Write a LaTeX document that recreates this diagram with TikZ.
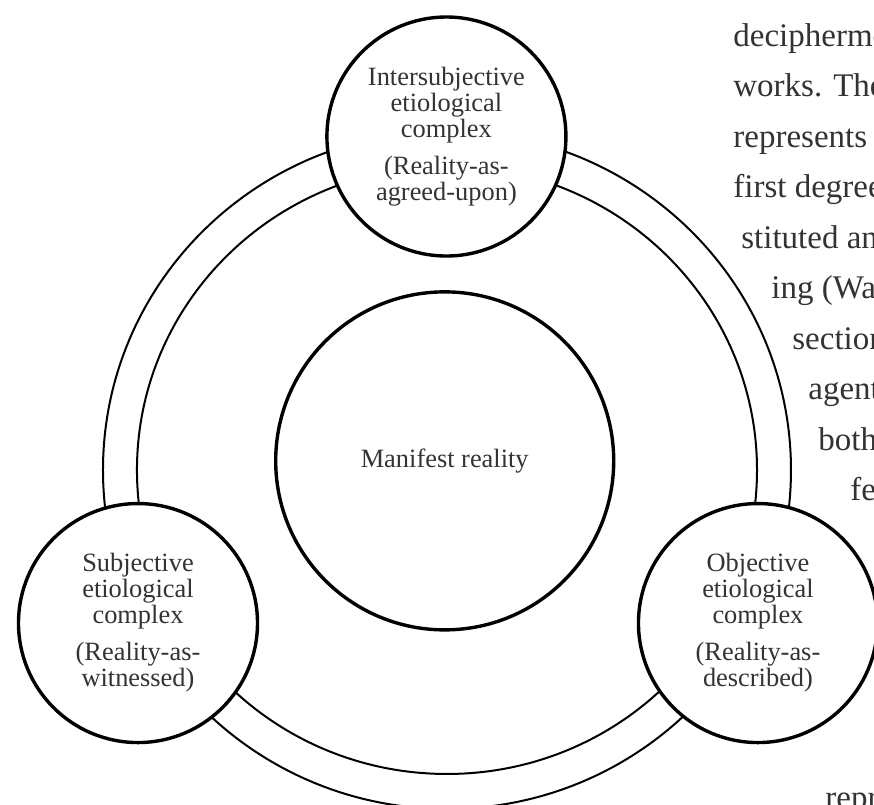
\documentclass[tikz,border=0pt]{standalone}
\usepackage{fontspec}
\setmainfont{Liberation Serif}
\usepackage{tikz}
\usetikzlibrary{positioning}

\begin{document}
\begin{tikzpicture}[
  blob/.style={circle,draw,line width=1.7pt,fill=white,inner sep=0pt,
    minimum size=4.2cm,align=center,text=black!80,
    font=\fontsize{13.2}{13}\selectfont},
  body/.style={anchor=base west,inner sep=0pt,text=black!80,
    font=\fontsize{16.5}{25}\selectfont}]
\useasboundingbox (-7.855,-5.887) rectangle (7.504,8.259);
\draw[line width=1pt] (0,0) ellipse (6.045 and 5.957);
\draw[line width=1pt] (0,0) ellipse (5.448 and 5.342);
\node[blob,minimum size=5.94cm] (manifest) at (-.04,.16) {Manifest reality};
\node[blob] (inter) at (-.01,5.86) {Intersubjective\\etiological\\complex\\[5.5pt](Reality-as-\\agreed-upon)};
\node[blob] (subj) at (-5.43,-2.69) {Subjective\\etiological\\complex\\[5.5pt](Reality-as-\\witnessed)};
\node[blob] (obj) at (5.465,-2.69) {Objective\\etiological\\complex\\[5.5pt](Reality-as-\\described)};
\node[body] (w1) at (5.026,7.433) {deciphermo};
\node[body] (w2) at (5.026,6.555) {works. The};
\node[body] (w3) at (5.026,5.659) {represents};
\node[body] (w4) at (5.026,4.780) {first degree};
\node[body] (w5) at (5.166,3.884) {stituted an};
\node[body] (w6) at (5.694,3.005) {ing (Wa};
\node[body] (w7) at (6.063,2.109) {section};
\node[body] (w8) at (6.344,1.230) {agent};
\node[body] (w9) at (6.520,.334) {both};
\node[body] (w10) at (7.082,-.545) {fe};
\node[body] (w11) at (6.643,-5.940) {repr};
\end{tikzpicture}
\end{document}
